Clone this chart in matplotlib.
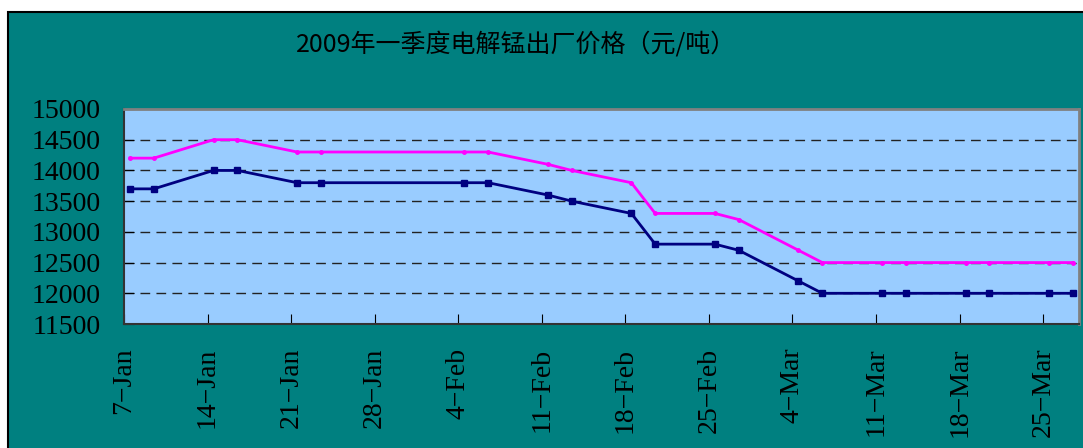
import datetime as dt
import matplotlib
matplotlib.use("Agg")
import matplotlib.pyplot as plt
from matplotlib.patches import Rectangle

# quote dates (Wed / Fri, no quotes over Spring Festival)
dates = ["2009-01-07", "2009-01-09", "2009-01-14", "2009-01-16", "2009-01-21", "2009-01-23",
         "2009-02-04", "2009-02-06", "2009-02-11", "2009-02-13", "2009-02-18", "2009-02-20",
         "2009-02-25", "2009-02-27", "2009-03-04", "2009-03-06", "2009-03-11", "2009-03-13",
         "2009-03-18", "2009-03-20", "2009-03-25", "2009-03-27"]
high_price = [14200, 14200, 14500, 14500, 14300, 14300, 14300, 14300, 14100, 14000, 13800, 13300,
              13300, 13200, 12700, 12500, 12500, 12500, 12500, 12500, 12500, 12500]
low_price = [13700, 13700, 14000, 14000, 13800, 13800, 13800, 13800, 13600, 13500, 13300, 12800,
             12800, 12700, 12200, 12000, 12000, 12000, 12000, 12000, 12000, 12000]
y_ticks = [11500, 12000, 12500, 13000, 13500, 14000, 14500, 15000]
title = "2009年一季度电解锰出厂价格（元/吨）"

teal = "#008080"
plot_bg = "#99CCFF"

# points sit in the middle of each day slot
x = [dt.datetime.strptime(d, "%Y-%m-%d") + dt.timedelta(hours=12) for d in dates]

fig = plt.figure(figsize=(10.83, 4.48), dpi=100)
fig.patch.set_facecolor("white")
fig.patches.append(Rectangle((8 / 1083, -0.1), 1.2, 1.1 - 12 / 448, transform=fig.transFigure,
                             facecolor=teal, edgecolor="black", linewidth=1.5, zorder=-10))

ax = fig.add_axes([124 / 1083, 1 - 324 / 448, (1079 - 124) / 1083, (324 - 109) / 448])
ax.set_zorder(5)
ax.set_facecolor(plot_bg)

for v in y_ticks[1:-1]:
    ax.axhline(v, color="#222222", lw=1, ls=(0, (7, 4.5)), zorder=1)

ax.plot(x, high_price, color="#FF00FF", lw=2, marker="o", ms=2.5, zorder=3)
ax.plot(x, low_price, color="#000080", lw=2, marker="s", ms=4, zorder=3)

ax.set_ylim(11500, 15000)
ax.set_yticks(y_ticks)
ax.set_xlim(dt.datetime(2009, 1, 7), dt.datetime(2009, 3, 28))
ticks = [dt.datetime(2009, 1, 7) + dt.timedelta(days=7 * i) for i in range(12)]
ax.set_xticks(ticks)
ax.set_xticklabels([f"{t.day}\u2212{t.strftime('%b')}" for t in ticks], rotation=90,
                   family="Liberation Serif", fontsize=20)
for lab in ax.get_yticklabels():
    lab.set_family("Liberation Serif")
    lab.set_fontsize(20)

ax.tick_params(axis="y", direction="in", length=7, pad=17, color="black")
ax.tick_params(axis="x", direction="in", length=7, pad=17, color="black")

for s in ["left", "bottom"]:
    ax.spines[s].set_color("#333333")
    ax.spines[s].set_linewidth(1.5)
for s in ["top", "right"]:
    ax.spines[s].set_color("#808080")
    ax.spines[s].set_linewidth(2)

fig.text(516 / 1083, 1 - 44 / 448, title, ha="center", va="center", fontsize=18,
         family=["Noto Sans CJK SC", "DejaVu Sans"], color="black")

fig.savefig("out.png", dpi=100, facecolor=fig.get_facecolor())
